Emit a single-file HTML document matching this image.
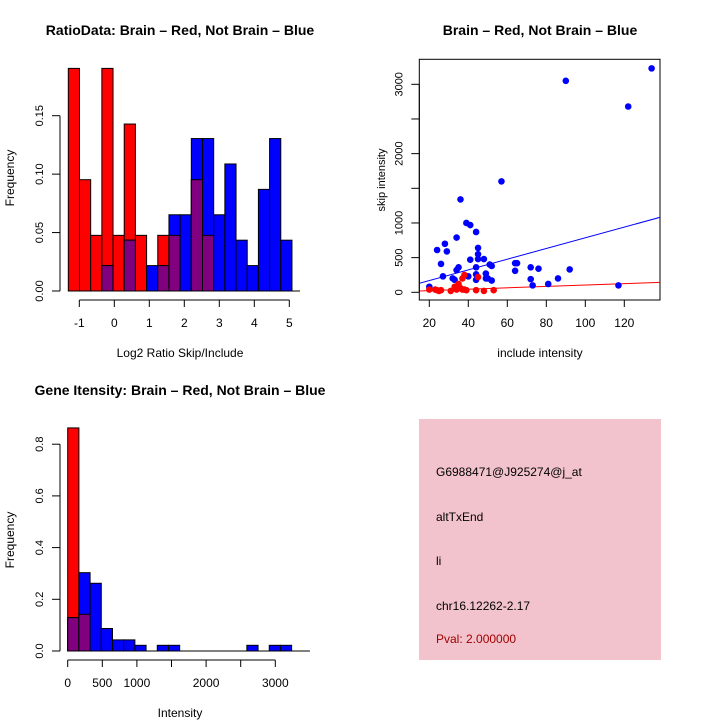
<!DOCTYPE html>
<html><head><meta charset="utf-8"><style>
body{margin:0;background:#fff}
svg{display:block;font-family:"Liberation Sans",sans-serif}
</style></head><body>
<svg id="s" width="720" height="720" viewBox="0 0 720 720">
<rect x="0" y="0" width="720" height="720" fill="#fff"/>
<text x="180" y="35" font-size="14" font-weight="bold" text-anchor="middle">RatioData: Brain – Red, Not Brain – Blue</text>
<text x="540" y="35" font-size="14" font-weight="bold" text-anchor="middle">Brain – Red, Not Brain – Blue</text>
<text x="180" y="395" font-size="14" font-weight="bold" text-anchor="middle">Gene Itensity: Brain – Red, Not Brain – Blue</text>
<text x="180" y="357" font-size="12" text-anchor="middle">Log2 Ratio Skip/Include</text>
<text transform="translate(14,178) rotate(-90)" font-size="12" text-anchor="middle">Frequency</text>
<text x="540" y="357" font-size="12" text-anchor="middle">include intensity</text>
<text transform="translate(385,180) rotate(-90)" font-size="11" text-anchor="middle">skip intensity</text>
<text x="180" y="717" font-size="12" text-anchor="middle">Intensity</text>
<text transform="translate(14,540) rotate(-90)" font-size="12" text-anchor="middle">Frequency</text>
<g>
<rect x="419" y="419" width="242" height="241" fill="#f2c3cc"/>
<text x="436" y="476" font-size="12">G6988471@J925274@j_at</text>
<text x="436" y="521" font-size="12">altTxEnd</text>
<text x="436" y="565" font-size="12">li</text>
<text x="436" y="610" font-size="12">chr16.12262-2.17</text>
<text x="436" y="643" font-size="12" fill="#a00000">Pval: 2.000000</text>
</g>
<g id="g1"></g><g id="g2"></g><g id="g3"></g>
</svg>
<script>
// Ratio histogram data
const ratioRed = [4/21,2/21,1/21,4/21,1/21,3/21,1/21,0,1/21,1/21,0,2/21,1/21,0,0,0,0,0,0,0];
const ratioBlue = [0,0,0,1/46,0,2/46,0,1/46,1/46,3/46,3/46,6/46,6/46,3/46,5/46,2/46,1/46,4/46,6/46,2/46];
const ratioXTicks = [-1,0,1,2,3,4,5];
const ratioYTicks = ["0.00","0.05","0.10","0.15"];
// Scatter data
const blueX = [20,24,26,27,28,29,32,33,34,34,35,36,39,40,41,41,44,44,44,44,45,45,45,48,49,49,50,51,52,52,57,64,64,65,72,72,73,76,81,86,90,92,117,122,134];
const blueY = [80,610,410,230,700,590,200,180,320,790,360,1340,1000,230,970,470,870,360,260,180,640,550,480,480,270,200,200,400,380,170,1600,420,310,420,190,360,100,340,120,200,3050,330,100,2680,3230];
const redX = [20,23,24,25,26,31,33,34,35,36,37,38,37,38,39,44,45,48,53];
const redY = [40,40,30,20,30,20,80,40,120,60,200,250,40,40,30,30,220,20,30];
const blueFit = [15,7.71];
const redFit = [4,1.01];
const scatXTicks = [20,40,60,80,100,120];
const scatYTicks = [0,500,1000,1500,2000,2500,3000];
const scatYLabels = ["0","500","1000","","2000","","3000"];
// Intensity histogram data
const intRed = [0.863,0.142,0,0,0,0,0,0,0,0,0,0,0,0,0,0,0,0,0,0];
const intBlue = [0.129,0.303,0.262,0.087,0.043,0.043,0.022,0,0.022,0.022,0,0,0,0,0,0,0.022,0,0.022,0.022];
const intXTicks = [0,500,1000,2000,3000];
const intXTicksMinor = [0,500,1000,1500,2000,2500,3000];
const intYTicks = ["0.0","0.2","0.4","0.6","0.8"];

const NS="http://www.w3.org/2000/svg";
function mk(parent,tag,attrs){const e=document.createElementNS(NS,tag);for(const k in attrs)e.setAttribute(k,attrs[k]);parent.appendChild(e);return e;}

function hist(g,red,blue,x0,bw,sx,sy,name){
  for(let i=0;i<red.length;i++){
    const xa=sx(x0+i*bw), xb=sx(x0+(i+1)*bw);
    const r=red[i], b=blue[i], m=Math.min(r,b);
    if(r>0){const e=mk(g,'rect',{x:xa,y:sy(r),width:xb-xa,height:sy(0)-sy(r),fill:'#ff0000',stroke:'#000','stroke-width':1});
      
      }
    if(b>0){const e=mk(g,'rect',{x:xa,y:sy(b),width:xb-xa,height:sy(0)-sy(b),fill:'#0000ff',stroke:'#000','stroke-width':1});
      
      }
    if(m>0){const e=mk(g,'rect',{x:xa,y:sy(m),width:xb-xa,height:sy(0)-sy(m),fill:'#800080',stroke:'#000','stroke-width':1});
      
      }
  }
}
function yaxis(g,vals,labels,sy,ax,name){
  mk(g,'line',{x1:ax,x2:ax,y1:sy(vals[0]),y2:sy(vals[vals.length-1]),stroke:'#000'});
  vals.forEach((v,i)=>{mk(g,'line',{x1:ax-8,x2:ax,y1:sy(v),y2:sy(v),stroke:'#000'});
    if(labels[i]!==""){const t=mk(g,'text',{transform:`translate(${ax-17},${sy(v)}) rotate(-90)`,'font-size':11,'text-anchor':'middle'});t.textContent=labels[i];
    
    }});
}
function xaxis(g,vals,labels,sx,ay,name){
  mk(g,'line',{x1:sx(vals[0]),x2:sx(vals[vals.length-1]),y1:ay,y2:ay,stroke:'#000'});
  vals.forEach((v,i)=>{mk(g,'line',{x1:sx(v),x2:sx(v),y1:ay,y2:ay+7,stroke:'#000'});
    if(labels[i]!==""){const t=mk(g,'text',{x:sx(v),y:ay+27,'font-size':12,'text-anchor':'middle'});t.textContent=labels[i];
    
    }});
}
// Panel 1
{const g=document.getElementById('g1');
 const sx=v=>79.3+(v+1)*35, sy=v=>291-v*1168.7;
 hist(g,ratioRed,ratioBlue,-1.314,0.3195,sx,sy,'ratio');
 xaxis(g,ratioXTicks,ratioXTicks.map(String),sx,300,'ratio');
 yaxis(g,[0,0.05,0.10,0.15],ratioYTicks,sy,60,'ratio');}
// Panel 2
{const g=document.getElementById('g2');
 const sx=v=>429.3+(v-20)*1.95, sy=v=>292.3-v*0.06933;
 mk(g,'rect',{x:419.3,y:59.3,width:240.7,height:240.7,fill:'none',stroke:'#000'});
 const cp=mk(g,'clipPath',{id:'cp'});mk(cp,'rect',{x:419.3,y:59.3,width:240.7,height:240.7});
 const lg=mk(g,'g',{'clip-path':'url(#cp)'});
 [[blueFit,'#0000ff','blue-fit-line'],[redFit,'#ff0000','red-fit-line']].forEach(([f,c,n])=>{
   const e=mk(lg,'line',{x1:sx(10),y1:sy(f[0]+f[1]*10),x2:sx(150),y2:sy(f[0]+f[1]*150),stroke:c,'stroke-width':1});
   
   });
 blueX.forEach((x,i)=>{const e=mk(g,'circle',{cx:sx(x),cy:sy(blueY[i]),r:3.3,fill:'#0000ff'});
   
   });
 redX.forEach((x,i)=>{const e=mk(g,'circle',{cx:sx(x),cy:sy(redY[i]),r:3.3,fill:'#ff0000'});
   
   });
 xaxis(g,scatXTicks,scatXTicks.map(String),sx,300,'scatter');
 yaxis(g,scatYTicks,scatYLabels,sy,419.3,'scatter');}
// Panel 3
{const g=document.getElementById('g3');
 const sx=v=>67.7+v*0.0692, sy=v=>651-v*258.5;
 hist(g,intRed,intBlue,0,161.8,sx,sy,'intensity');
 mk(g,'line',{x1:sx(0),x2:sx(3500),y1:651,y2:651,stroke:'#000'});
 xaxis(g,intXTicksMinor,["0","500","1000","","2000","","3000"],sx,660,'intensity');
 yaxis(g,[0,0.2,0.4,0.6,0.8],intYTicks,sy,60,'intensity');}
// baseline for panel 1
mk(document.getElementById('g1'),'line',{x1:68,x2:300,y1:291,y2:291,stroke:'#000'});
</script>
</body></html>
